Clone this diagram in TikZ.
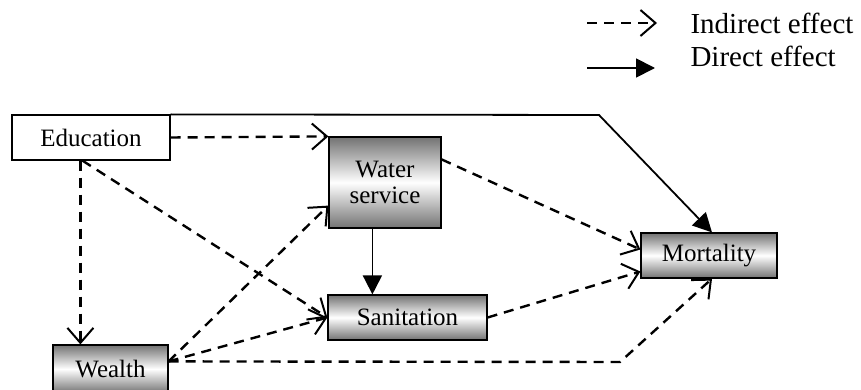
\documentclass[tikz,border=0pt]{standalone}
\usepackage{fontspec}
\setmainfont{Liberation Serif}
\usetikzlibrary{arrows.meta,calc}
\begin{document}
\begin{tikzpicture}[x=1pt,y=-1pt,
  box/.style={draw=black,line width=1.2pt,inner sep=0pt,align=center,
    font=\fontsize{25}{26}\selectfont},
  metal/.style={box,top color=black!55,bottom color=black!55,middle color=white},
  ind/.style={line width=2.4pt,dash pattern=on 10pt off 7pt,
    -{Straight Barb[length=15pt,width=26pt,line width=2pt]}},
  dir/.style={line width=1.8pt,-{Triangle[length=19pt,width=19pt]}},
  leg/.style={anchor=base west,font=\fontsize{29}{30}\selectfont}]
\useasboundingbox (0,0) rectangle (861,390);
% nodes
\node[box,fill=white,minimum width=158pt,minimum height=45pt] (edu) at (91,137.5) {Education};
\node[metal,minimum width=112pt,minimum height=91pt] (water) at (385,182.5) {Water\\service};
\node[metal,minimum width=159pt,minimum height=45pt] (san) at (407.5,317.5) {Sanitation};
\node[metal,minimum width=136pt,minimum height=45pt] (mort) at (709,255.5) {Mortality};
\node[metal,minimum width=115pt,minimum height=48pt] (wealth) at (110.5,369) {Wealth};
% legend
\coordinate (l1a) at (587,23); \coordinate (l1b) at (657,23);
\coordinate (l2a) at (587,68); \coordinate (l2b) at (655,68);
\draw[ind] (l1a) -- (l1b);
\draw[dir] (l2a) -- (l2b);
\node[leg] (li) at (687,34) {Indirect effect};
\node[leg] (ld) at (687,67) {Direct effect};
% connectors
\coordinate (eduS) at ($(edu.south west)+(69,0)$);
\coordinate (eduS2) at ($(edu.south west)+(71,0)$);
\coordinate (wS) at ($(wealth.north east)+(0,17)$);
\coordinate (wTop) at ($(water.south west)+(0,-23)$);
\coordinate (wE) at ($(water.north east)+(0,23)$);
\coordinate (mTop) at ($(mort.north)+(3,0)$);
\coordinate (mBot) at ($(mort.south)+(3,0)$);
\coordinate (mW1) at ($(mort.west)+(0,-6)$);
\coordinate (mW2) at ($(mort.west)+(0,16)$);
\coordinate (wsS) at ($(water.south west)+(44,0)$);
\coordinate (bend1) at (599,115);
\coordinate (bend2) at (620,362);
\draw[dir] (edu.north east) -- (bend1) -- (mTop);
\draw[ind] (edu.east) -- (water.north west);
\draw[ind] (eduS) -- (eduS |- wealth.north);
\draw[ind] (eduS2) -- (san.west);
\draw[ind] (wS) -- (wTop);
\draw[ind] (wS) -- (san.west);
\draw[ind] (wS) -- (bend2) -- (mBot);
\draw[ind] (wE) -- (mW1);
\draw[ind] (san.east) -- (mW2);
\draw[dir] (wsS) -- (wsS |- san.north);
\end{tikzpicture}
\end{document}
